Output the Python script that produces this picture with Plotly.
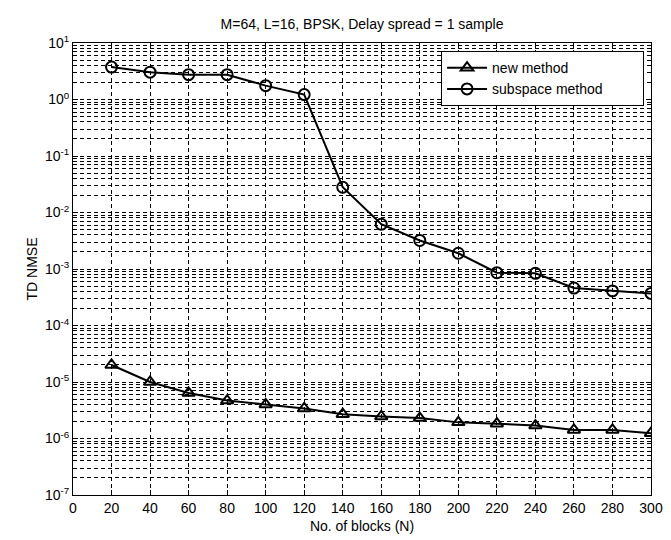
import plotly.graph_objects as go

blocks = [20, 40, 60, 80, 100, 120, 140, 160, 180, 200, 220, 240, 260, 280, 300]
new_method = [2.0e-5, 1.0e-5, 6.4e-6, 4.7e-6, 4.0e-6, 3.4e-6, 2.7e-6, 2.45e-6, 2.3e-6,
              1.93e-6, 1.83e-6, 1.69e-6, 1.42e-6, 1.42e-6, 1.24e-6]
subspace_method = [3.75, 3.05, 2.75, 2.75, 1.76, 1.22, 0.028, 0.0062, 0.0032, 0.0019,
                   0.00086, 0.00084, 0.00046, 0.00041, 0.00037]

x_ticks = list(range(0, 301, 20))
y_tick_vals = [1e-7, 1e-6, 1e-5, 1e-4, 1e-3, 1e-2, 1e-1, 1e0, 1e1]
y_tick_text = ["10<sup>-7</sup>", "10<sup>-6</sup>", "10<sup>-5</sup>", "10<sup>-4</sup>",
               "10<sup>-3</sup>", "10<sup>-2</sup>", "10<sup>-1</sup>", "10<sup>0</sup>", "10<sup>1</sup>"]

FONT = "Liberation Sans Narrow, Liberation Sans, Arial, sans-serif"
DASH = "4px,3px"

fig = go.Figure()
fig.add_trace(go.Scatter(
    x=blocks, y=new_method, name="new method", mode="lines+markers",
    line=dict(color="black", width=2),
    marker=dict(symbol="triangle-up-open", size=11, color="black", line=dict(width=2, color="black")),
))
fig.add_trace(go.Scatter(
    x=blocks, y=subspace_method, name="subspace method" + "\u00a0" * 9, mode="lines+markers",
    line=dict(color="black", width=2),
    marker=dict(symbol="circle-open", size=11, color="black", line=dict(width=2, color="black")),
))

fig.update_layout(
    width=671, height=540,
    paper_bgcolor="white", plot_bgcolor="white",
    margin=dict(l=65, r=28, t=35, b=53),
    font=dict(family=FONT, size=13, color="black"),
    title=dict(text="M=64, L=16, BPSK, Delay spread = 1 sample", x=(65 + 643) / 2 / 671,
               xanchor="center", y=1 - 16 / 540, yanchor="middle",
               font=dict(family=FONT, size=14, color="black")),
    showlegend=True,
    legend=dict(x=0.988, y=0.982, xanchor="right", yanchor="top",
                bgcolor="white", bordercolor="black", borderwidth=1,
                font=dict(family=FONT, size=14, color="black"),
                tracegroupgap=0, itemwidth=40),
)

fig.update_xaxes(
    range=[0, 300], tickvals=x_ticks, ticktext=[str(v) for v in x_ticks],
    showline=True, linecolor="black", linewidth=1, mirror="ticks",
    ticks="inside", ticklen=5, tickcolor="black",
    showgrid=True, gridcolor="black", griddash=DASH, gridwidth=1,
    zeroline=False,
    title=dict(text="No. of blocks (N)", font=dict(family=FONT, size=14), standoff=6),
    tickfont=dict(family=FONT, size=14),
)
fig.update_yaxes(
    type="log", range=[-7, 1], tickvals=y_tick_vals, ticktext=y_tick_text,
    showline=True, linecolor="black", linewidth=1, mirror="ticks",
    ticks="inside", ticklen=5, tickcolor="black",
    showgrid=True, gridcolor="black", griddash=DASH, gridwidth=1,
    minor=dict(dtick="D1", showgrid=True, gridcolor="black", griddash=DASH, gridwidth=1,
               ticks="inside", ticklen=3, tickcolor="black"),
    zeroline=False,
    title=dict(text="TD NMSE", font=dict(family=FONT, size=14), standoff=4),
    tickfont=dict(family=FONT, size=14),
)

fig.write_html("out.html")
